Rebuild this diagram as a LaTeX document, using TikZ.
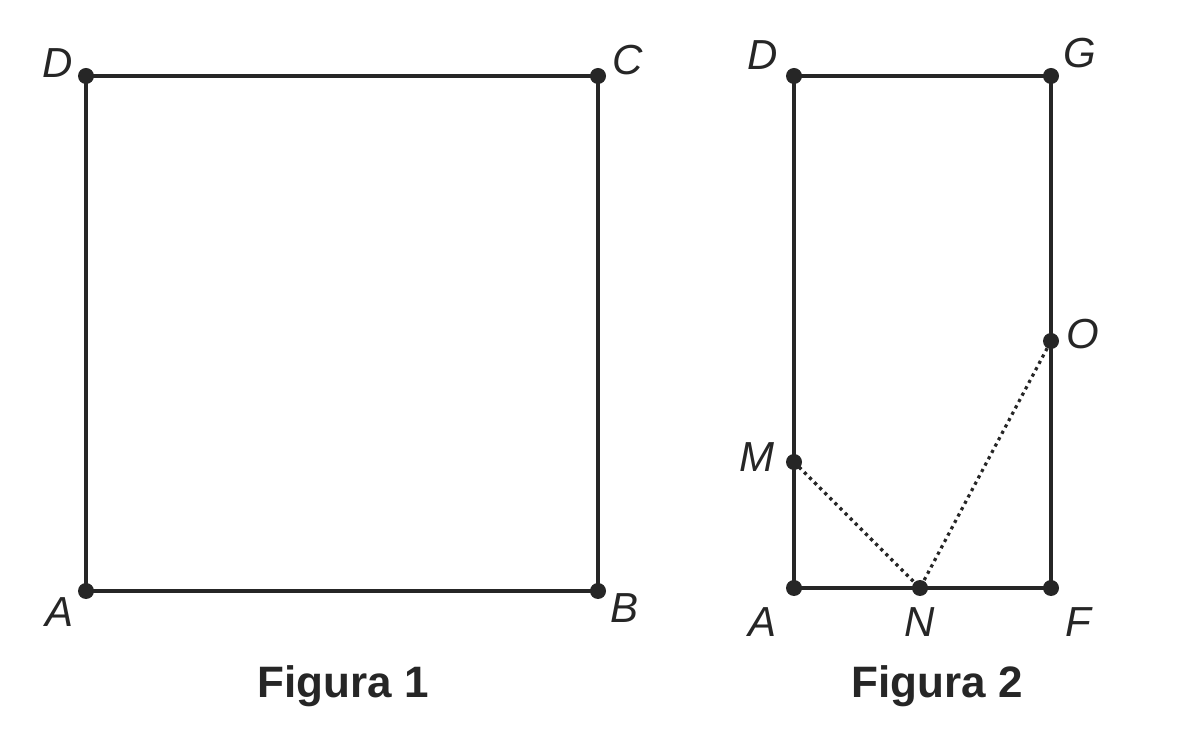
\documentclass[tikz,border=0pt]{standalone}
\usepackage{fontspec}
\setmainfont{Liberation Sans}
\begin{document}
\begin{tikzpicture}[x=0.5pt,y=-0.5pt,
  edge/.style={line width=2pt,color=black!85},
  dotted edge/.style={line width=1.6pt,dotted,color=black!85},
  pt/.style={circle,fill=black!85,inner sep=0pt,minimum size=8pt},
  lab/.style={font=\fontsize{21}{21}\selectfont\itshape,text=black!85},
  captext/.style={font=\fontsize{22}{22}\selectfont\bfseries,text=black!85}]
\useasboundingbox (0,0) rectangle (1200,753);
\node[pt] (D1) at (86,76) {};
\node[pt] (C1) at (598,76) {};
\node[pt] (A1) at (86,591) {};
\node[pt] (B1) at (598,591) {};
\draw[edge] (A1.center) -- (B1.center) -- (C1.center) -- (D1.center) -- cycle;
\node[pt] (D2) at (794,76) {};
\node[pt] (G2) at (1051,76) {};
\node[pt] (A2) at (794,588) {};
\node[pt] (F2) at (1051,588) {};
\node[pt] (N2) at (920,588) {};
\node[pt] (M2) at (794,462) {};
\node[pt] (O2) at (1051,341) {};
\draw[edge] (A2.center) -- (F2.center) -- (G2.center) -- (D2.center) -- cycle;
\draw[dotted edge] (M2.center) -- (N2.center) -- (O2.center);
\node[lab] (lD1) at (58,63) {D};
\node[lab] (lC1) at (628,60) {C};
\node[lab] (lA1) at (60,612) {A};
\node[lab] (lB1) at (625,608) {B};
\node[lab] (lD2) at (763,55) {D};
\node[lab] (lG2) at (1080,53) {G};
\node[lab] (lO2) at (1083,334) {O};
\node[lab] (lM2) at (757,457) {M};
\node[lab] (lA2) at (762,622) {A};
\node[lab] (lN2) at (920,622) {N};
\node[lab] (lF2) at (1078,622) {F};
\node[captext] (f1) at (343,686) {Figura 1};
\node[captext] (f2) at (937,686) {Figura 2};
\end{tikzpicture}
\end{document}
